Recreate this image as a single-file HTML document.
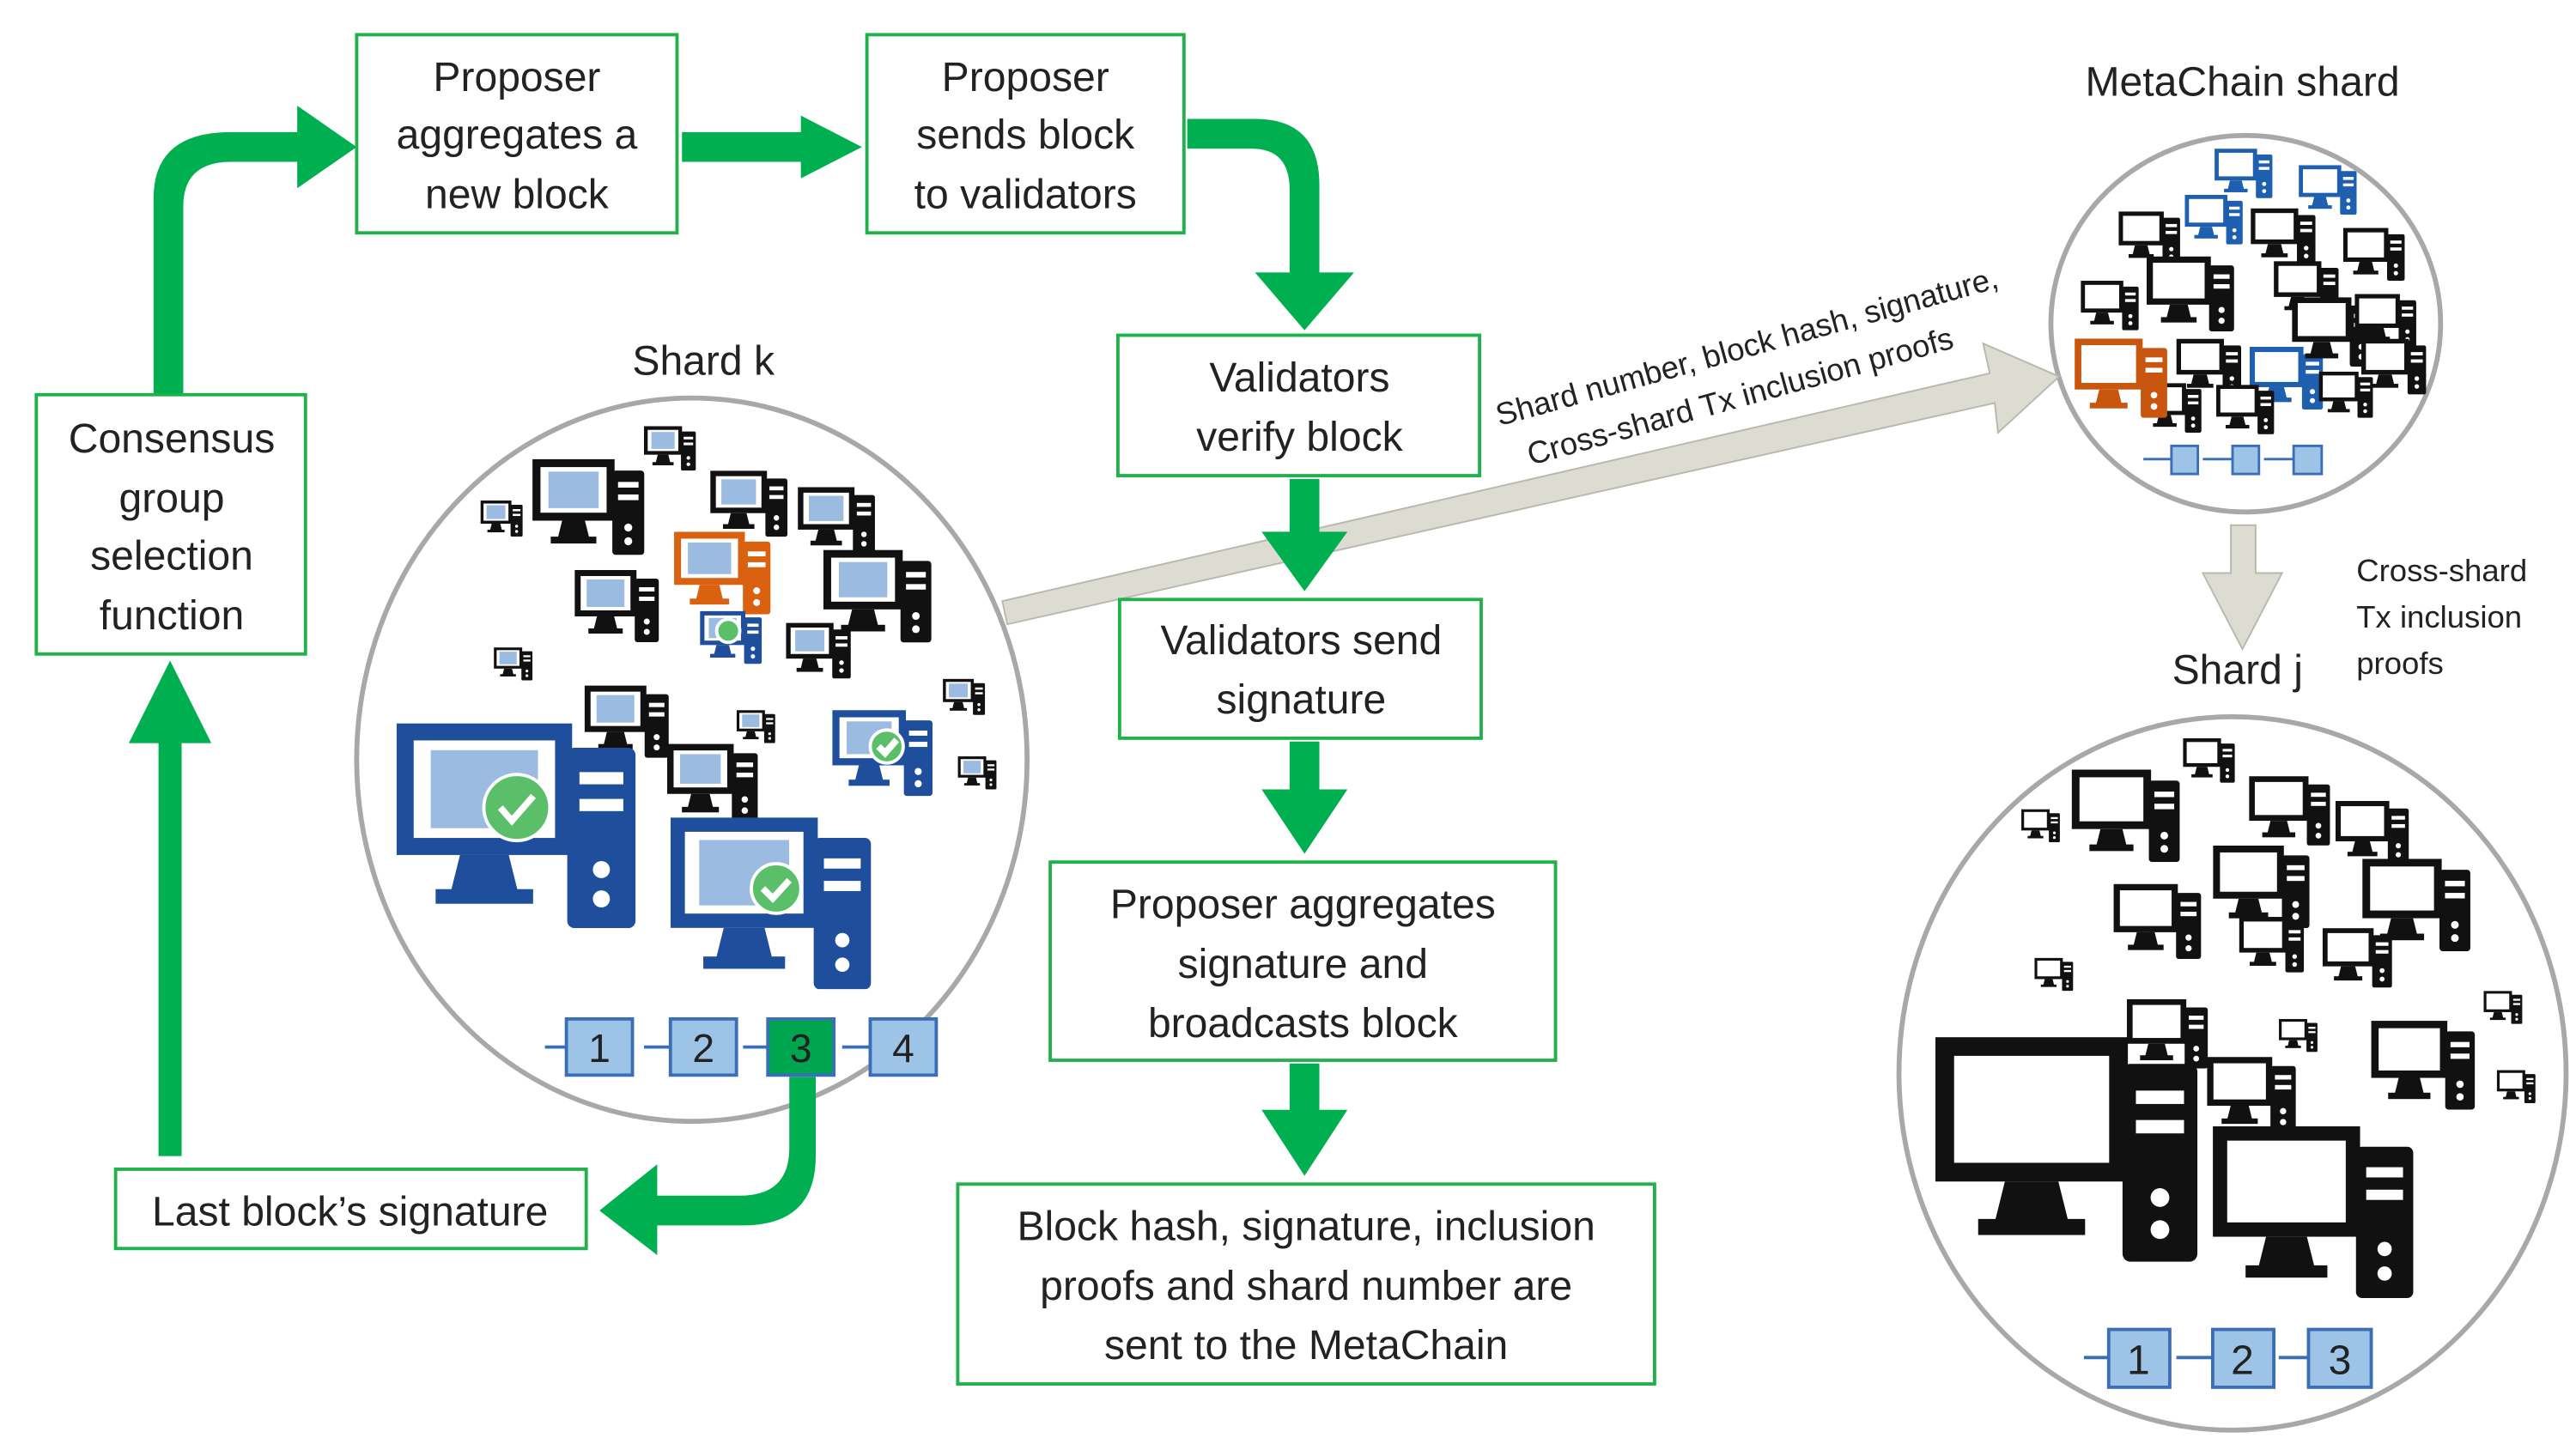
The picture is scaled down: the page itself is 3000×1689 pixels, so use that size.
<!DOCTYPE html>
<html><head><meta charset="utf-8"><style>
html,body{margin:0;padding:0;background:#fff}
svg{display:block}
text{font-family:"Liberation Sans",sans-serif;fill:#222}
</style></head><body>
<svg width="3000" height="1689" viewBox="0 0 1560 878" preserveAspectRatio="none" xmlns="http://www.w3.org/2000/svg">
<defs>
<symbol id="pc" viewBox="0 0 100 84">
<rect x="0" y="0" width="72" height="54" fill="currentColor"/>
<rect x="7" y="7" width="58" height="40" fill="#fff"/>
<rect x="14" y="11" width="44" height="32" fill="#9bbbe0"/>
<polygon points="26,54 46,54 50,70 22,70" fill="currentColor"/>
<rect x="16" y="68" width="40" height="6" fill="currentColor"/>
<rect x="70" y="10" width="28" height="74" rx="3" fill="currentColor"/>
<rect x="75" y="20" width="18" height="5" fill="#fff"/>
<rect x="75" y="31" width="18" height="5" fill="#fff"/>
<circle cx="84" cy="60" r="3.5" fill="#fff"/>
<circle cx="84" cy="72" r="3.5" fill="#fff"/>
</symbol>
<symbol id="pcw" viewBox="0 0 100 84">
<rect x="0" y="0" width="72" height="54" fill="currentColor"/>
<rect x="7" y="7" width="58" height="40" fill="#fff"/>
<polygon points="26,54 46,54 50,70 22,70" fill="currentColor"/>
<rect x="16" y="68" width="40" height="6" fill="currentColor"/>
<rect x="70" y="10" width="28" height="74" rx="3" fill="currentColor"/>
<rect x="75" y="20" width="18" height="5" fill="#fff"/>
<rect x="75" y="31" width="18" height="5" fill="#fff"/>
<circle cx="84" cy="60" r="3.5" fill="#fff"/>
<circle cx="84" cy="72" r="3.5" fill="#fff"/>
</symbol>
</defs>

<!-- circles -->
<ellipse cx="419" cy="460" rx="203" ry="219" fill="none" stroke="#a8a8a8" stroke-width="3"/>
<ellipse cx="1360" cy="196" rx="118" ry="114" fill="none" stroke="#a8a8a8" stroke-width="3"/>
<ellipse cx="1352" cy="650" rx="202" ry="216" fill="none" stroke="#a8a8a8" stroke-width="3"/>

<!-- gray arrows -->
<polygon points="607,364 1205,226 1201,208 1247,228 1210,262 1208,244 610,378" fill="#dcdcd3" stroke="#b8b8ae" stroke-width="1"/>
<polygon points="1351,318 1366,318 1366,347 1382,347 1358,393 1334,347 1351,347" fill="#dcdcd3" stroke="#b8b8ae" stroke-width="1"/>

<!-- green arrows -->
<g fill="#00b050">
<path d="M93,239 L93,120 Q93,80 140,80 L180,80 L180,64 L216,89 L180,114 L180,98 L140,98 Q111,98 111,125 L111,239 Z"/>
<polygon points="413,80 485,80 485,70 522,89 485,108 485,98 413,98"/>
<path d="M719,72 L760,72 Q799,72 799,112 L799,165 L820,165 L790,200 L760,165 L781,165 L781,115 Q781,90 758,90 L719,90 Z"/>
<polygon points="781,290 799,290 799,322 816,322 790,358 764,322 781,322"/>
<polygon points="781,449 799,449 799,478 816,478 790,517 764,478 781,478"/>
<polygon points="781,644 799,644 799,672 816,672 790,712 764,672 781,672"/>
<polygon points="96,700 110,700 110,450 128,450 103,400 78,450 96,450"/>
<path d="M478,652 L494,652 L494,700 Q494,742 450,742 L398,742 L398,760 L363,733 L398,705 L398,724 L448,724 Q478,724 478,695 Z"/>
</g>

<!-- boxes -->
<g fill="#fff" stroke="#21b14b" stroke-width="2">
<rect x="216" y="21" width="194" height="120"/>
<rect x="525" y="21" width="192" height="120"/>
<rect x="22" y="239" width="163" height="157"/>
<rect x="677" y="203" width="219" height="85"/>
<rect x="678" y="363" width="219" height="84"/>
<rect x="636" y="522" width="306" height="120"/>
<rect x="580" y="717" width="422" height="121"/>
<rect x="70" y="708" width="285" height="48"/>
</g>
<g font-size="25" text-anchor="middle">
<text x="313" y="55">Proposer</text><text x="313" y="90">aggregates a</text><text x="313" y="126">new block</text>
<text x="621" y="55">Proposer</text><text x="621" y="90">sends block</text><text x="621" y="126">to validators</text>
<text x="104" y="274">Consensus</text><text x="104" y="310">group</text><text x="104" y="345">selection</text><text x="104" y="381">function</text>
<text x="787" y="237">Validators</text><text x="787" y="273">verify block</text>
<text x="788" y="396">Validators send</text><text x="788" y="432">signature</text>
<text x="789" y="556">Proposer aggregates</text><text x="789" y="592">signature and</text><text x="789" y="628">broadcasts block</text>
<text x="791" y="751">Block hash, signature, inclusion</text><text x="791" y="787">proofs and shard number are</text><text x="791" y="823">sent to the MetaChain</text>
<text x="212" y="742">Last block’s signature</text>
<text x="426" y="227">Shard k</text>
<text x="1358" y="58">MetaChain shard</text>
<text x="1355" y="414">Shard j</text>
</g>
<g font-size="19">
<text x="1427" y="352">Cross-shard</text><text x="1427" y="380">Tx inclusion</text><text x="1427" y="408">proofs</text>
<g transform="rotate(-15.5 908 258)"><text x="908" y="258">Shard number, block hash, signature,</text><text x="920" y="286">Cross-shard Tx inclusion proofs</text></g>
</g>

<!-- shard k computers -->
<g color="#111">
<use href="#pc" x="390" y="258" width="32" height="27"/>
<use href="#pc" x="291" y="303" width="26" height="22"/>
<use href="#pc" x="322" y="278" width="70" height="58"/>
<use href="#pc" x="430" y="285" width="48" height="40"/>
<use href="#pc" x="483" y="295" width="48" height="40"/>
<use href="#pc" x="348" y="345" width="52" height="44"/>
<use href="#pc" x="498" y="333" width="68" height="56"/>
<use href="#pc" x="476" y="377" width="40" height="34"/>
<use href="#pc" x="299" y="392" width="24" height="20"/>
<use href="#pc" x="354" y="415" width="52" height="44"/>
<use href="#pc" x="404" y="450" width="56" height="48"/>
<use href="#pc" x="446" y="430" width="24" height="20"/>
<use href="#pc" x="571" y="411" width="26" height="22"/>
<use href="#pc" x="580" y="458" width="24" height="20"/>
</g>
<g color="#d9610f"><use href="#pc" x="408" y="322" width="60" height="50"/></g>
<g color="#1f4e9c">
<use href="#pc" x="423" y="370" width="40" height="32"/>
<use href="#pc" x="504" y="430" width="62" height="52"/>
<use href="#pc" x="240" y="438" width="148" height="124"/>
<use href="#pc" x="406" y="495" width="124" height="104"/>
</g>
<g fill="#5bbf6a" stroke="#fff" stroke-width="2">
<circle cx="313" cy="489" r="20"/><circle cx="470" cy="538" r="15"/><circle cx="537" cy="452" r="10"/><circle cx="441" cy="382" r="7"/>
</g>
<g fill="none" stroke="#fff" stroke-width="4"><path d="M303,489 l7,8 l13,-15"/><path d="M462,538 l6,6 l10,-11"/><path d="M532,452 l4,4 l7,-8"/></g>

<!-- chain k -->
<g stroke="#3a6fb8" stroke-width="2" fill="#9dc3e6">
<rect x="343" y="617" width="40" height="34"/><rect x="406" y="617" width="40" height="34"/><rect x="465" y="617" width="40" height="34" fill="#00a550"/><rect x="527" y="617" width="40" height="34"/>
</g>
<g stroke="#3a6fb8" stroke-width="2"><line x1="330" y1="634" x2="343" y2="634"/><line x1="390" y1="634" x2="406" y2="634"/><line x1="450" y1="634" x2="465" y2="634"/><line x1="510" y1="634" x2="527" y2="634"/></g>
<g font-size="24" text-anchor="middle"><text x="363" y="643">1</text><text x="426" y="643">2</text><text x="485" y="643">3</text><text x="547" y="643">4</text></g>

<!-- metachain computers -->
<g color="#1f5fb0">
<use href="#pcw" x="1341" y="90" width="36" height="30"/>
<use href="#pcw" x="1392" y="100" width="36" height="30"/>
<use href="#pcw" x="1323" y="118" width="36" height="30"/>
<use href="#pcw" x="1362" y="210" width="46" height="38"/>
</g>
<g color="#111">
<use href="#pcw" x="1283" y="128" width="38" height="32"/>
<use href="#pcw" x="1363" y="126" width="40" height="34"/>
<use href="#pcw" x="1419" y="138" width="38" height="32"/>
<use href="#pcw" x="1300" y="155" width="54" height="46"/>
<use href="#pcw" x="1377" y="158" width="40" height="34"/>
<use href="#pcw" x="1260" y="170" width="36" height="30"/>
<use href="#pcw" x="1388" y="180" width="50" height="42"/>
<use href="#pcw" x="1426" y="178" width="38" height="32"/>
<use href="#pcw" x="1318" y="205" width="40" height="34"/>
<use href="#pcw" x="1430" y="205" width="40" height="34"/>
<use href="#pcw" x="1298" y="232" width="36" height="30"/>
<use href="#pcw" x="1342" y="233" width="36" height="30"/>
<use href="#pcw" x="1404" y="225" width="34" height="28"/>
</g>
<g color="#c8560e"><use href="#pcw" x="1256" y="205" width="58" height="48"/></g>
<g stroke="#3a6fb8" stroke-width="1.5" fill="#9dc3e6">
<rect x="1315" y="270" width="16" height="17"/><rect x="1352" y="270" width="16" height="17"/><rect x="1389" y="270" width="17" height="17"/>
<line x1="1298" y1="278" x2="1315" y2="278"/><line x1="1334" y1="278" x2="1352" y2="278"/><line x1="1371" y1="278" x2="1389" y2="278"/>
</g>

<!-- shard j computers -->
<g color="#111">
<use href="#pcw" x="1322" y="447" width="32" height="27"/>
<use href="#pcw" x="1254" y="466" width="68" height="56"/>
<use href="#pcw" x="1224" y="490" width="24" height="20"/>
<use href="#pcw" x="1362" y="470" width="50" height="42"/>
<use href="#pcw" x="1414" y="485" width="46" height="38"/>
<use href="#pcw" x="1340" y="512" width="60" height="50"/>
<use href="#pcw" x="1430" y="520" width="68" height="56"/>
<use href="#pcw" x="1280" y="535" width="54" height="46"/>
<use href="#pcw" x="1356" y="555" width="40" height="34"/>
<use href="#pcw" x="1406" y="562" width="44" height="36"/>
<use href="#pcw" x="1232" y="580" width="24" height="20"/>
<use href="#pcw" x="1504" y="600" width="24" height="20"/>
<use href="#pcw" x="1380" y="617" width="24" height="20"/>
<use href="#pcw" x="1288" y="605" width="50" height="42"/>
<use href="#pcw" x="1436" y="618" width="64" height="54"/>
<use href="#pcw" x="1512" y="648" width="24" height="20"/>
<use href="#pcw" x="1336" y="640" width="56" height="46"/>
<use href="#pcw" x="1172" y="628" width="162" height="136"/>
<use href="#pcw" x="1340" y="682" width="124" height="104"/>
</g>
<g stroke="#3a6fb8" stroke-width="2" fill="#9dc3e6">
<rect x="1277" y="805" width="37" height="35"/><rect x="1340" y="805" width="37" height="35"/><rect x="1398" y="805" width="38" height="35"/>
<line x1="1262" y1="822" x2="1277" y2="822"/><line x1="1318" y1="822" x2="1340" y2="822"/><line x1="1380" y1="822" x2="1398" y2="822"/>
</g>
<g font-size="25" text-anchor="middle"><text x="1295" y="832">1</text><text x="1358" y="832">2</text><text x="1417" y="832">3</text></g>
</svg>
</body></html>
